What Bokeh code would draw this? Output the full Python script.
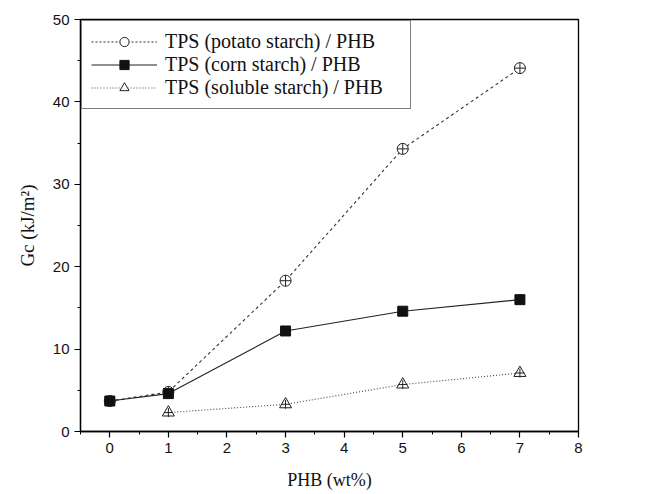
from bokeh.plotting import figure
from bokeh.models import Legend, LegendItem, ColumnDataSource, SingleIntervalTicker, Range1d
from bokeh.embed import file_html
from bokeh.resources import INLINE

# Data
phb_potato = [0, 1, 3, 5, 7]
gc_potato = [3.7, 4.8, 18.3, 34.3, 44.1]
phb_corn = [0, 1, 3, 5, 7]
gc_corn = [3.7, 4.6, 12.2, 14.6, 16.0]
phb_soluble = [1, 3, 5, 7]
gc_soluble = [2.3, 3.3, 5.7, 7.1]
labels = ["TPS (potato starch) / PHB", "TPS (corn starch) / PHB", "TPS (soluble starch) / PHB"]

p = figure(width=648, height=494, output_backend="svg", toolbar_location=None,
           x_range=Range1d(-0.5, 8), y_range=Range1d(0, 50),
           min_border_left=80, min_border_right=70, min_border_top=19, min_border_bottom=63)
p.background_fill_color = "white"
p.border_fill_color = "white"
p.outline_line_color = "black"
p.outline_line_width = 1.3
p.grid.visible = False

for ax in (p.xaxis[0], p.yaxis[0]):
    ax.axis_line_width = 1.3
    ax.major_tick_line_width = 1.2
    ax.minor_tick_line_width = 1.0
    ax.major_tick_out = 6
    ax.major_tick_in = 0
    ax.minor_tick_out = 3
    ax.minor_tick_in = 0
    ax.major_label_text_font = "Liberation Sans"
    ax.major_label_text_font_size = "15px"
    ax.major_label_text_color = "#111111"
    ax.axis_label_text_font = "Liberation Serif"
    ax.axis_label_text_font_size = "18px"
    ax.axis_label_text_font_style = "normal"
    ax.axis_label_text_color = "#111111"

p.xaxis.ticker = SingleIntervalTicker(interval=1, num_minor_ticks=2)
p.yaxis.ticker = SingleIntervalTicker(interval=10, num_minor_ticks=2)
p.xaxis.axis_label = "PHB (wt%)"
p.yaxis.axis_label = "Gc (kJ/m²)"
p.yaxis.axis_label_text_font_size = "19px"
p.xaxis.axis_label_standoff = 14
p.yaxis.axis_label_standoff = 12

# Potato
p.line(phb_potato, gc_potato, line_color="#333333", line_width=1.1, line_dash="3 3")
p.scatter(phb_potato, gc_potato, marker="circle_cross", size=11, fill_color="white",
          line_color="#222222", line_width=1.0)
# Corn
p.line(phb_corn, gc_corn, line_color="#222222", line_width=1.1)
p.scatter(phb_corn, gc_corn, marker="square", size=10, fill_color="#111111", line_color="#111111")
# Soluble
p.line(phb_soluble, gc_soluble, line_color="#444444", line_width=1.1, line_dash="1 2")
p.scatter(phb_soluble, gc_soluble, marker="triangle", size=12, fill_color="white",
          line_color="#222222", line_width=1.0)
p.scatter(phb_soluble, gc_soluble, marker="cross", size=9, line_color="#222222", line_width=1.0)

# Legend proxies (not drawn: NaN data)
nan = float("nan")
def proxy():
    return ColumnDataSource(data=dict(x=[nan], y=[nan]))
s1 = proxy(); s2 = proxy(); s3 = proxy()
l1 = p.line("x", "y", source=s1, line_color="#333333", line_width=1.1, line_dash="2 2")
m1 = p.scatter("x", "y", source=s1, marker="circle", size=11, fill_color="white", line_color="#222222")
l2 = p.line("x", "y", source=s2, line_color="#222222", line_width=1.1)
m2 = p.scatter("x", "y", source=s2, marker="square", size=10, fill_color="#111111", line_color="#111111")
l3 = p.line("x", "y", source=s3, line_color="#444444", line_width=1.1, line_dash="1 2")
m3 = p.scatter("x", "y", source=s3, marker="triangle", size=12, fill_color="white", line_color="#222222")

legend = Legend(items=[LegendItem(label=labels[0], renderers=[l1, m1], index=0),
                       LegendItem(label=labels[1], renderers=[l2, m2], index=0),
                       LegendItem(label=labels[2], renderers=[l3, m3], index=0)],
                location="top_left", margin=1, padding=9, spacing=0,
                glyph_width=66, glyph_height=23, label_height=23, label_standoff=8,
                label_width=236,
                label_text_font="Liberation Serif", label_text_font_size="20px",
                label_text_color="#111111",
                border_line_color="black", border_line_width=1.0,
                background_fill_color="white", background_fill_alpha=1.0)
p.add_layout(legend)

open("out.html", "w").write(file_html(p, INLINE))
